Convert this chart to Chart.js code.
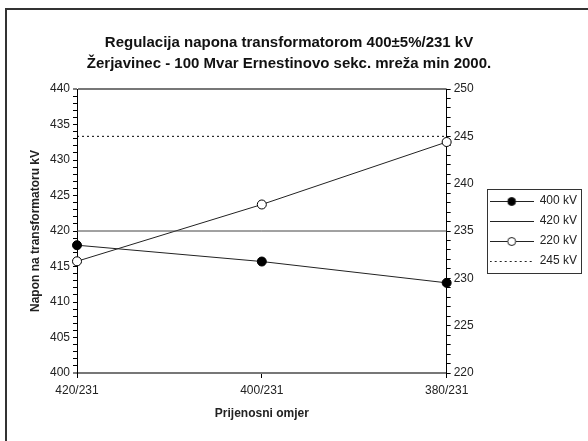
<!DOCTYPE html>
<html>
<head>
<meta charset="utf-8">
<script src="https://cdn.jsdelivr.net/npm/chart.js@4"></script>
<style>
body{margin:0;background:#fff;}
#wrap{position:relative;width:588px;height:441px;overflow:hidden;}
#frame{position:absolute;left:5px;top:8px;width:700px;height:600px;border-left:2px solid #333;border-top:2px solid #333;pointer-events:none;}
</style>
</head>
<body>
<div id="wrap"><canvas id="chart" width="588" height="441"></canvas><div id="frame"></div></div>
<script>
const categories = ['420/231', '400/231', '380/231'];
const kv400 = [418.0, 415.7, 412.7];   // left axis
const kv420 = [420, 420, 420];         // left axis
const kv220 = [231.8, 237.8, 244.4];   // right axis
const kv245 = [245, 245, 245];         // right axis
const seriesNames = ['400 kV', '420 kV', '220 kV', '245 kV'];
const titleLines = ['Regulacija napona transformatorom 400±5%/231 kV', 'Žerjavinec - 100 Mvar Ernestinovo sekc. mreža min 2000.'];
const leftRange = [400, 440];
const rightRange = [220, 250];

const FONT = "'Liberation Sans', Arial, sans-serif";
const INK = '#222';

// small line+marker pictures for the legend
function legendSample(marker, dash) {
	var c = document.createElement('canvas');
	c.width = 44; c.height = 12;
	var g = c.getContext('2d');
	g.strokeStyle = INK; g.lineWidth = 1;
	if (dash) g.setLineDash(dash);
	g.beginPath(); g.moveTo(0, 6.5); g.lineTo(44, 6.5); g.stroke();
	if (marker) {
		g.setLineDash([]);
		g.beginPath(); g.arc(22, 6.5, 4, 0, Math.PI * 2);
		g.fillStyle = marker; g.fill(); g.stroke();
	}
	return c;
}
const samples = [legendSample('#000'), legendSample(null), legendSample('#fff'), legendSample(null, [2, 3])];

// box round the legend
const legendBox = {
	id: 'legendBox',
	afterDraw(chart) {
		var hb = chart.legend.legendHitBoxes;
		if (!hb || !hb.length) return;
		var l = Math.min(...hb.map(h => h.left)) - 3;
		var r = Math.max(...hb.map(h => h.left + h.width)) + 4;
		var t = Math.min(...hb.map(h => h.top)) - 6;
		var b = Math.max(...hb.map(h => h.top + h.height)) + 6;
		var ctx = chart.ctx;
		ctx.save();
		ctx.strokeStyle = '#333'; ctx.lineWidth = 1;
		ctx.strokeRect(Math.round(l) + 0.5, Math.round(t) + 0.5, Math.round(r - l), Math.round(b - t));
		ctx.restore();
	}
};

function fiveOnly(v) { return v % 5 === 0 ? v : ''; }

const ctx = document.getElementById('chart').getContext('2d');
new Chart(ctx, {
	type: 'line',
	data: {
		labels: categories,
		datasets: [
			{label: seriesNames[0], data: kv400, yAxisID: 'y', borderColor: INK, borderWidth: 1,
			 pointRadius: 4.5, pointBackgroundColor: '#000', pointBorderColor: '#000', clip: false},
			{label: seriesNames[1], data: kv420, yAxisID: 'y', borderColor: '#444', borderWidth: 1,
			 pointRadius: 0, clip: false},
			{label: seriesNames[2], data: kv220, yAxisID: 'y1', borderColor: INK, borderWidth: 1,
			 pointRadius: 4.5, pointBackgroundColor: '#fff', pointBorderColor: '#000', clip: false},
			{label: seriesNames[3], data: kv245, yAxisID: 'y1', borderColor: '#000', borderWidth: 1,
			 borderDash: [2, 3], pointRadius: 0, clip: false}
		]
	},
	options: {
		responsive: false,
		animation: false,
		layout: {padding: {left: 0, right: 10, top: 0, bottom: 0}},
		plugins: {
			title: {
				display: true, text: titleLines, color: '#111',
				font: {family: FONT, size: 15, weight: 'bold', lineHeight: 1.4},
				padding: {top: 32, bottom: 15}
			},
			legend: {
				position: 'right', fullSize: false,
				labels: {
					usePointStyle: true, pointStyleWidth: 44, padding: 8, color: INK,
					font: {family: FONT, size: 12},
					generateLabels(chart) {
						return Chart.defaults.plugins.legend.labels.generateLabels(chart).map((it, i) => {
							it.pointStyle = samples[i];
							return it;
						});
					}
				}
			},
			tooltip: {enabled: false}
		},
		scales: {
			x: {
				offset: false,
				border: {color: '#777', width: 2},
				grid: {drawOnChartArea: false, tickColor: '#000', tickLength: 5, tickWidth: 1},
				ticks: {color: INK, font: {family: FONT, size: 12}, padding: 5, maxRotation: 0},
				title: {display: true, text: 'Prijenosni omjer', color: INK,
					font: {family: FONT, size: 12, weight: 'bold'}, padding: {top: 4, bottom: 20}},
				afterFit(s) { s.height = 68; }
			},
			y: {
				position: 'left', min: leftRange[0], max: leftRange[1],
				border: {color: '#000', width: 1},
				grid: {
					color: c => (c.tick && (c.tick.value === leftRange[0] || c.tick.value === leftRange[1])) ? '#777' : 'rgba(0,0,0,0)',
					lineWidth: c => (c.tick && (c.tick.value === leftRange[0] || c.tick.value === leftRange[1])) ? 2 : 1,
					tickColor: '#000', tickLength: 4, tickWidth: 1
				},
				ticks: {stepSize: 1, autoSkip: false, callback: fiveOnly, color: INK,
					font: {family: FONT, size: 12}, padding: 3},
				title: {display: true, text: 'Napon na transformatoru kV', color: INK,
					font: {family: FONT, size: 12, weight: 'bold'}, padding: {top: 28, bottom: 0}},
				afterFit(s) { s.width = 77; }
			},
			y1: {
				position: 'right', min: rightRange[0], max: rightRange[1],
				border: {color: '#000', width: 1},
				grid: {drawOnChartArea: false, tickColor: '#000', tickLength: 4, tickWidth: 1},
				ticks: {stepSize: 1, autoSkip: false, callback: fiveOnly, color: INK,
					font: {family: FONT, size: 12}, padding: 3},
				afterFit(s) { s.width += 5; }
			}
		}
	},
	plugins: [legendBox]
});
</script>
</body>
</html>
